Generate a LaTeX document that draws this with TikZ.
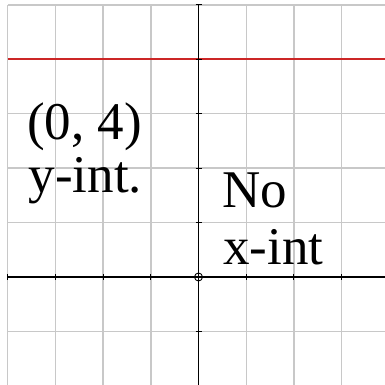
\documentclass[tikz,border=0pt]{standalone}
\usepackage{fontspec}
\setmainfont{Liberation Serif}
\definecolor{gridgray}{RGB}{200,200,200}
\definecolor{plotred}{rgb}{0.80,0.15,0.15}
\tikzset{
  gridline/.style={draw=gridgray, line width=1.4pt},
  axisline/.style={draw=black, line width=1.3pt},
  tickmark/.style={draw=black, line width=1pt},
  graphline/.style={color=plotred, line width=1.8pt},
  lbl/.style={inner sep=0pt, anchor=base west, font=\fontsize{53}{60}\selectfont}
}
\begin{document}
\begin{tikzpicture}
\useasboundingbox (0,0) rectangle (385pt,385pt);
\clip (0,0) rectangle (385pt,385pt);
\begin{scope}[shift={(198.5pt,108pt)}, x=47.7pt, y=54.4pt]
  % grid
  \foreach \i in {-4,...,4} \draw[gridline] (\i,-2.1) -- (\i,5);
  \foreach \j in {-2,...,5} \draw[gridline] (-4,\j) -- (4.2,\j);
  % graph y = 4
  \coordinate (gl) at (-4,4);
  \coordinate (gr) at (4.2,4);
  \draw[graphline] (gl) -- (gr);
  % axes
  \coordinate (O) at (0,0);
  \coordinate (xl) at (-4,0);
  \coordinate (xr) at (4.2,0);
  \coordinate (yb) at (0,-2.1);
  \coordinate (yt) at (0,5);
  \draw[axisline] (xl) -- (xr);
  \draw[axisline] (yb) -- (yt);
  % ticks
  \foreach \i in {-4,-3,-2,-1,1,2,3} \draw[tickmark] (\i,-3pt) -- (\i,3pt);
  \foreach \j in {-2,-1,1,2,3,4,5} \draw[tickmark] ([xshift=-3pt]0,\j) -- ([xshift=3pt]0,\j);
  % origin marker
  \draw[black, line width=0.9pt] (O) circle (4pt);
\end{scope}
\node[lbl] (p1) at (27pt,245pt) {(0, 4)};
\node[lbl] (p2) at (28.5pt,192pt) {y-int.};
\node[lbl] (p3) at (222.5pt,177pt) {No};
\node[lbl] (p4) at (223pt,120pt) {x-int};
\end{tikzpicture}
\end{document}
